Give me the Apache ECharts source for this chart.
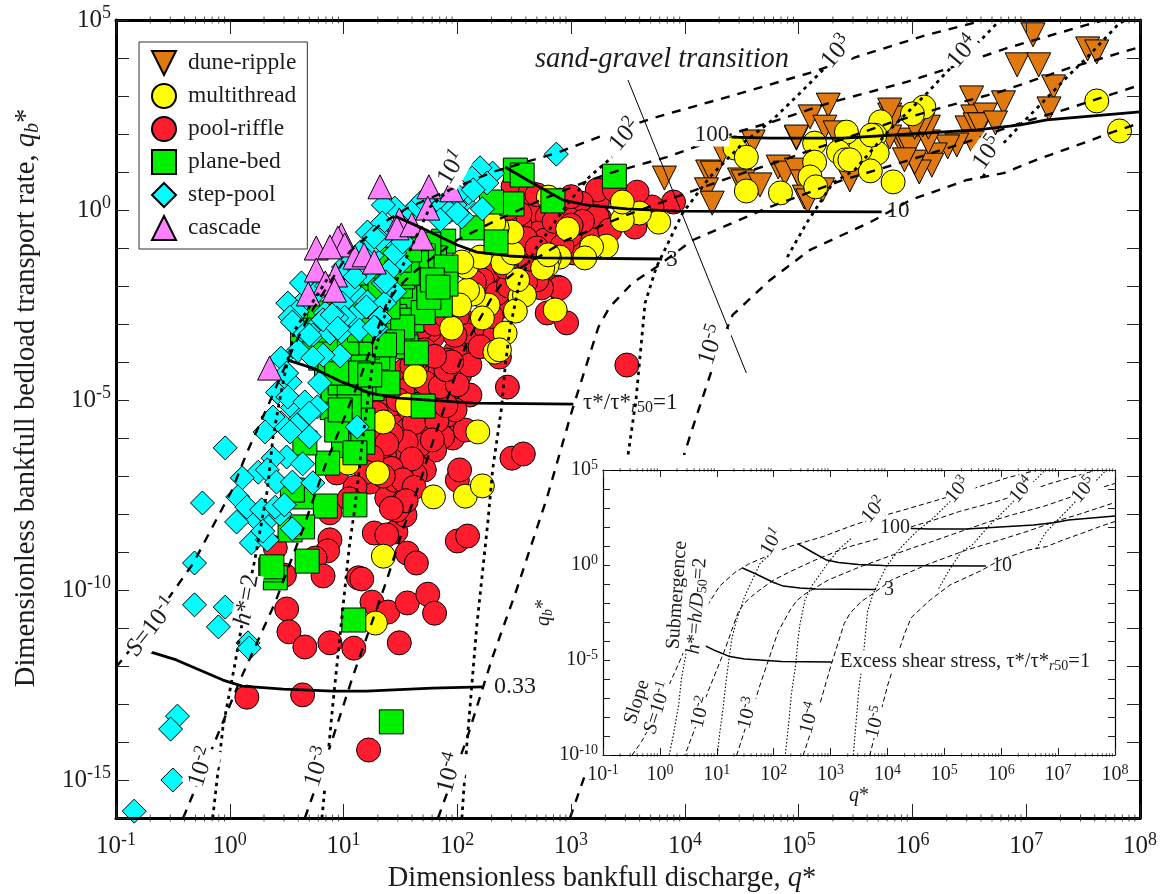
<!DOCTYPE html>
<html><head><meta charset="utf-8">
<style>html,body{margin:0;padding:0;background:#fff}#c{width:1165px;height:894px}</style>
<script src="https://cdn.jsdelivr.net/npm/echarts@6/dist/echarts.min.js"></script>
</head><body><div id="c"></div>
<script>
// All values as [log10 q*, log10 qb*]
const duneRipple=[[3.82,.84],[4.20,1.00],[4.24,.97],[4.19,.53],[4.24,.18],[4.33,1.53],[4.60,1.79],[4.48,.79],[4.51,.74],[4.66,.66],[4.82,1.13],[4.88,.97],[4.98,1.05],[5.03,.74],[5.05,.34],[5.08,.24],[4.98,1.89],[4.98,1.92],[5.10,2.45],[5.26,2.76],[5.23,2.18],[5.32,2.03],[5.80,2.50],[5.83,2.42],[5.45,.79],[5.21,.53],[5.89,1.84],[5.95,1.66],[5.80,1.92],[7.06,4.61],[6.92,3.82],[7.11,3.82],[7.24,3.24],[7.20,2.66],[7.54,4.24],[7.62,4.16],[6.52,2.95],[6.80,2.82],[6.53,2.45],[6.64,2.50],[6.48,2.16],[6.55,2.24],[6.59,2.24],[6.73,2.29],[6.53,1.76],[6.39,1.71],[6.31,1.66],[6.20,1.45],[6.17,1.18],[6.06,1.00],[6.02,1.26],[5.98,1.63],[6.14,1.79],[6.14,2.18],[6.09,2.24],[6.02,2.18],[5.80,2.63],[5.93,1.32]];
const poolRiffle=[[3.49,-4.08],[2.44,-4.66],[2.88,-2.03],[2.96,-2.97],[2.79,-2.71],[2.48,-6.53],[2.58,-6.42],[2.00,-7.11],[2.02,-6.84],[3.90,.21],[3.71,.08],[3.58,.47],[3.56,-.45],[3.23,.45],[3.23,.18],[3.25,-.21],[3.09,.08],[3.19,-.61],[3.02,-1.13],[2.90,-2.05],[2.74,-2.05],[2.65,-.79],[2.73,-.26],[2.61,.18],[2.81,-.71],[3.23,.53],[3.09,.18],[3.23,-.18],[2.70,-1.84],[2.66,-.08],[2.79,-.18],[2.84,-.71],[2.71,-.61],[2.49,.61],[2.64,.45],[2.55,-1.76],[2.37,-1.84],[2.26,-1.66],[2.22,-1.84],[2.39,-2.18],[2.37,-2.55],[2.20,-3.08],[2.08,-2.97],[1.73,-3.16],[1.67,-3.34],[1.78,-3.34],[2.37,-3.87],[2.20,-3.37],[2.11,-3.61],[1.98,-3.74],[1.91,-3.95],[1.91,-4.68],[1.78,-4.29],[1.76,-3.16],[1.70,-3.08],[1.67,-3.87],[1.89,-5.45],[1.96,-6.00],[1.87,-5.97],[1.73,-5.87],[1.42,-5.08],[1.38,-5.45],[1.29,-5.34],[1.47,-5.71],[1.56,-5.79],[1.49,-6.13],[1.32,-6.24],[1.65,-6.66],[1.56,-6.58],[1.47,-6.58],[1.58,-7.11],[1.56,-7.37],[1.48,-7.45],[1.49,-7.68],[1.42,-7.55],[1.41,-7.63],[1.23,-7.16],[.94,-6.92],[.88,-7.97],[1.27,-8.50],[1.46,-8.47],[1.38,-8.55],[1.56,-9.03],[1.64,-9.29],[2.00,-8.71],[2.09,-8.58],[.40,-8.89],[.88,-8.68],[.86,-8.97],[.75,-9.16],[.82,-9.63],[1.13,-9.68],[1.16,-9.71],[.50,-10.5],[.52,-11.1],[.66,-11.5],[.88,-11.39],[1.09,-11.53],[1.49,-11.39],[1.25,-10.32],[1.39,-10.58],[1.56,-10.34],[1.74,-10.11],[1.80,-10.61],[.15,-12.82],[.64,-12.76],[1.22,-14.21],[.48,-9.61],[1.38,-7.58],[1.52,-7.71],[1.56,-7.32],[2.07,-3.16],[1.93,-3.03],[1.93,-5.0],[2.11,-4.87],[1.76,-5.0],[1.45,-4.74],[1.54,-4.21],[1.71,-3.68],[1.85,-2.37],[1.98,-2.37],[2.02,-4.34],[1.85,-4.21],[1.67,-4.74],[1.58,-5.26],[1.71,-5.39],[1.80,-6.32],[1.67,-6.18],[1.71,-6.84],[1.63,-6.97],[1.54,-8.03],[1.45,-7.11],[1.36,-6.45],[1.23,-5.66],[2.07,-5.79],[2.11,-4.08],[2.29,-3.55],[2.46,-2.5],[2.51,-1.45],[2.64,-1.45],[2.42,-.79],[2.55,-.39],[2.77,-.79],[2.95,-.13],[2.99,-.66],[2.90,.26],[3.38,.53],[3.34,-.53],[1.85,-5.05],[1.98,-5.26],[1.62,-4.5],[1.52,-4.76],[1.48,-5.0],[1.62,-5.6],[1.82,-5.55],[1.55,-6.1],[1.78,-6.05],[1.42,-5.9],[1.3,-5.9],[1.38,-6.15],[1.5,-6.85],[1.6,-6.55],[1.42,-6.8],[1.52,-7.1],[1.35,-7.0],[1.62,-7.3],[1.47,-7.9],[1.55,-7.65],[1.42,-7.85],[1.9,-5.15],[1.72,-4.55],[1.85,-4.65],[2.0,-4.6],[1.9,-4.2],[1.95,-4.0],[1.8,-3.85],[1.6,-4.1],[1.68,-2.9],[1.8,-3.0],[1.9,-2.8],[2.0,-2.8],[2.1,-3.3],[1.98,-3.3],[2.25,-3.1],[2.33,-3.3],[2.2,-3.6],[2.3,-2.8],[2.15,-1.9],[2.35,-2.2],[2.55,-2.1],[2.6,-1.9],[2.45,-2.0],[2.42,-1.5],[2.6,-.75],[2.7,-1.0],[2.85,-.3],[2.55,-.1],[2.42,-.35],[2.45,.05],[2.7,.4],[3.0,.35],[3.1,-.3],[2.92,-.95],[3.0,-.4],[1.25,-6.5],[1.2,-6.9],[1.1,-7.3],[1.05,-7.6]];
const multithread=[[7.82,2.08],[7.62,2.87],[6.10,2.71],[6.00,2.53],[5.72,2.32],[5.67,1.97],[5.69,1.50],[5.63,1.03],[5.83,.74],[5.54,1.58],[4.44,1.63],[4.54,1.39],[4.54,.50],[4.84,.45],[5.14,1.76],[5.14,1.26],[5.10,.87],[5.15,.61],[5.42,2.05],[5.35,1.53],[5.41,1.32],[5.45,1.32],[5.64,1.97],[3.77,-.32],[3.60,-.08],[3.45,-.26],[3.45,.21],[3.31,-.95],[3.18,-.97],[3.12,-1.26],[2.90,-1.24],[2.81,-1.26],[2.77,-1.37],[2.97,-.50],[2.80,.34],[2.55,-2.29],[2.59,-2.24],[2.53,-1.84],[2.46,-1.13],[2.86,-2.63],[2.79,-1.45],[2.75,-1.53],[2.80,-1.18],[2.51,-2.66],[2.42,-3.24],[2.27,-2.50],[2.22,-2.84],[2.14,-2.21],[2.09,-2.11],[2.02,-2.50],[2.08,-1.50],[2.20,-1.24],[2.04,-1.37],[2.40,-1.39],[2.49,-1.13],[2.48,-.58],[2.35,-.47],[2.32,-.34],[1.95,-3.11],[2.33,-3.74],[2.37,-3.68],[1.63,-4.37],[1.56,-5.13],[1.35,-5.58],[2.18,-5.84],[1.04,-6.66],[1.30,-6.92],[1.79,-7.55],[2.07,-7.53],[2.22,-7.26],[1.35,-9.11],[1.28,-10.87]];
const planeBed=[[2.51,1.05],[2.57,.92],[2.84,.24],[2.48,.16],[2.30,.21],[2.34,-.84],[2.13,-.47],[1.88,-.82],[1.82,-1.79],[1.85,-2.50],[1.63,-2.32],[1.80,-1.26],[1.64,-1.63],[1.54,-2.32],[1.54,-3.16],[3.38,.89],[1.2,-1.9],[1.3,-1.6],[1.4,-1.3],[1.5,-1.0],[1.65,-.95],[1.75,-.9],[1.7,-1.2],[1.5,-2.0],[1.35,-2.0],[1.25,-2.6],[1.45,-2.8],[1.6,-2.9],[1.7,-2.7],[1.3,-3.4],[1.45,-3.3],[1.55,-3.6],[1.2,-3.9],[1.35,-4.1],[1.25,-4.7],[1.15,-4.7],[1.15,-5.1],[1.02,-5.6],[1.1,-5.9],[1.0,-6.2],[.98,-3.0],[.9,-3.4],[.8,-3.9],[.85,-4.4],[.9,-5.2],[.65,-2.9],[1.0,-1.9],[1.75,-2.3],[1.9,-1.5],[1.9,-1.95],[1.52,-1.76],[1.58,-1.58],[1.64,-1.39],[1.78,-1.84],[1.52,-3.08],[1.39,-2.55],[1.47,-1.66],[1.56,-1.66],[.79,-2.71],[1.26,-2.29],[1.83,-2.03],[1.43,-3.47],[1.64,-3.76],[1.30,-3.89],[1.39,-4.55],[1.70,-5.16],[1.05,-4.82],[.95,-4.92],[.91,-4.74],[.97,-4.55],[1.12,-3.61],[1.12,-3.95],[1.03,-4.13],[1.17,-5.53],[1.05,-5.53],[.94,-5.79],[1.17,-6.11],[1.10,-6.39],[.86,-6.66],[.84,-7.79],[1.10,-7.76],[.63,-7.55],[.55,-7.37],[.53,-8.42],[.64,-8.34],[.68,-9.24],[.40,-9.68],[.36,-9.47],[.37,-9.39],[1.09,-10.79],[1.42,-13.47],[1.05,-4.61],[.99,-4.29],[1.05,-5.18],[.97,-4.03],[.88,-4.03],[1.21,-3.61],[1.17,-4.13],[1.13,-4.29],[.94,-4.29],[1.03,-3.5],[.64,-3.42],[.66,-6.13],[1.01,-2.37],[1.14,-2.63],[1.32,-2.11],[1.49,-1.32],[1.58,-1.05],[1.14,-3.16],[1.27,-3.16],[1.36,-3.55],[1.23,-4.34],[.97,-5.26],[.84,-3.68],[.75,-3.16]];
const stepPool=[[.65,-2.4],[.75,-2.2],[.85,-2.0],[.95,-1.9],[1.0,-1.5],[1.15,-1.1],[1.25,-1.2],[1.4,-.7],[1.55,-.4],[1.6,-.05],[1.65,.1],[1.8,.0],[1.95,.0],[2.05,.2],[2.1,.45],[2.0,.4],[1.5,-1.4],[1.4,-1.6],[1.45,-2.15],[.6,-3.7],[.45,-3.9],[.42,-4.8],[.55,-5.2],[.45,-5.6],[.62,-5.5],[.25,-6.9],[.5,-6.5],[.22,-8.1],[.35,-8.1],[.44,-8.0],[2.87,1.47],[2.31,.97],[2.20,1.11],[2.13,.84],[2.26,.71],[2.14,.53],[2.22,.03],[2.04,-.18],[1.86,-.21],[1.98,.13],[1.87,.13],[1.93,-.05],[1.70,.26],[2.00,-.08],[1.85,-.26],[1.45,.05],[1.35,.13],[1.21,-.58],[1.34,-.34],[1.27,-.87],[1.45,-1.13],[1.35,-1.92],[1.13,-2.24],[1.08,-1.32],[.51,-2.45],[.63,-1.92],[1.32,-.79],[1.20,-1.66],[1.21,-2.42],[1.05,-2.03],[1.36,-2.45],[.99,-2.45],[1.52,-.84],[1.27,-.71],[1.14,-1.58],[1.37,-1.89],[1.32,-2.84],[1.29,-3.11],[1.08,-2.82],[1.01,-2.82],[.94,-2.84],[.84,-2.71],[.79,-2.97],[.73,-3.29],[.63,-3.16],[.59,-2.68],[.53,-2.82],[1.10,-1.76],[.88,-3.24],[.98,-3.21],[1.14,-3.16],[.55,-2.95],[.70,-3.29],[.82,-2.89],[.90,-2.76],[.95,-3.11],[1.20,-2.55],[1.27,-3.08],[.97,-3.84],[.82,-3.82],[.73,-3.89],[.79,-4.55],[.53,-4.53],[.50,-4.29],[.51,-4.92],[.66,-5.05],[.77,-5.18],[.70,-5.34],[.59,-5.66],[.38,-5.45],[.31,-5.84],[.70,-5.97],[.53,-5.84],[1.12,-5.71],[-.04,-6.26],[.38,-6.53],[.33,-6.84],[.64,-6.68],[.41,-7.16],[.11,-7.05],[.55,-7.16],[.73,-7.18],[.07,-7.55],[.15,-7.82],[.06,-8.21],[.28,-7.89],[.40,-7.82],[.48,-7.76],[.55,-8.39],[.19,-8.76],[.33,-8.68],[.29,-8.45],[-.24,-7.71],[-.31,-9.29],[-.31,-10.39],[-.04,-10.45],[-.10,-10.97],[.16,-11.39],[.17,-11.53],[-.46,-13.32],[-.52,-13.66],[-.50,-15.0],[-.84,-15.82]];
const cascade=[[1.32,.61],[1.75,.61],[1.74,.05],[1.49,-.26],[1.47,-.47],[1.60,-.39],[1.69,-.74],[.98,-.66],[.95,-.74],[1.01,-.92],[.76,-1.0],[.88,-.97],[1.10,-1.24],[1.18,-1.18],[1.27,-1.37],[.76,-1.58],[.93,-1.71],[.84,-1.92],[.69,-2.21],[.92,-2.11],[.35,-4.16],[1.95,.53]];
// Slope curves
const slope1e1=[[-1,-12.03],[-.75,-11.11],[-.32,-9.29],[.02,-7.37],[.15,-6.39],[.35,-5.05],[.55,-3.68],[.70,-2.76],[1.05,-1.11],[1.32,-.39],[1.56,.05],[1.93,.53],[2.31,1.0],[2.87,1.5],[3.34,2.03],[3.72,2.42],[4.37,2.97],[5.10,3.61],[5.51,4.03],[6.13,4.61],[6.64,5]];
const slope1e2=[[-.41,-16],[-.15,-14.13],[.11,-12.24],[.40,-10.32],[.64,-8.42],[.85,-6.63],[.92,-6.11],[1.14,-4.47],[1.38,-2.45],[1.48,-2.03],[1.61,-1.66],[1.73,-1.37],[2.0,-.79],[2.31,-.32],[2.73,.26],[3.10,.71],[3.34,.97],[3.84,1.39],[4.46,2.05],[4.77,2.32],[5.27,2.82],[5.63,3.11],[5.95,3.37],[6.27,3.68],[6.83,4.26],[7.53,4.87],[7.69,5]];
const slope1e3=[[.66,-16],[.88,-14.13],[1.08,-12.29],[1.38,-9.74],[1.52,-8.42],[1.67,-7.18],[1.76,-6.32],[1.96,-4.55],[2.08,-3.5],[2.29,-2.37],[2.40,-1.89],[2.55,-1.53],[2.70,-1.26],[2.96,-.79],[3.49,-.13],[4.02,.45],[4.46,.92],[4.81,1.26],[5.16,1.63],[5.80,2.29],[6.24,2.68],[6.77,3.11],[7.38,3.74],[8,4.29]];
const slope1e4=[[1.83,-16],[2.08,-13.95],[2.31,-11.76],[2.52,-10],[2.79,-7.55],[3.01,-5.26],[3.24,-3.08],[3.34,-2.55],[3.54,-1.92],[3.75,-1.5],[4.07,-.79],[4.72,.05],[5.39,.79],[5.98,1.32],[6.48,1.79],[6.95,2.29],[7.38,2.68],[8,3.29]];
const slope1e5=[[2.99,-16],[3.69,-10],[4.0,-6.37],[4.09,-5.53],[4.31,-3.55],[4.42,-2.76],[4.75,-1.84],[5.10,-1.05],[5.63,-.32],[5.98,.26],[6.48,.79],[6.80,.97],[7.09,1.32],[7.41,1.66],[7.74,2.03],[8,2.29]];
// Submergence curves
const sub2=[[-.15,-16],[-.06,-13.61],[.04,-12.03],[.15,-10.18],[.22,-9.21],[.33,-7.37],[.38,-5.97],[.46,-4.66],[.51,-3.95],[.57,-3.16],[.88,-1.71]];
const sub1e1=[[.81,-16],[.91,-12.89],[1.05,-8.87],[1.10,-7.82],[1.17,-5.97],[1.26,-3.95],[1.34,-2.97],[1.49,-1.66],[1.76,.08],[1.93,.53]];
const sub1e2=[[2.04,-16],[2.08,-14.21],[2.17,-10.97],[2.27,-8.16],[2.31,-6.84],[2.39,-5.18],[2.42,-4.13],[2.46,-3.16],[2.55,-1.84],[2.68,-1.05],[2.84,-.39],[2.96,.13],[3.16,.87],[3.36,1.39]];
const sub1e3=[[3.40,-10],[3.50,-6.45],[3.57,-5],[3.65,-2.45],[3.75,-1.5],[3.98,-.08],[4.22,.87],[4.51,1.76],[4.77,2.37],[5.04,3.16],[5.23,3.74]];
const sub1e4=[[4.90,-1.24],[5.07,-.34],[5.30,.71],[5.49,1.05],[5.80,2.11],[6.13,3.08],[6.30,3.63],[6.62,4.53],[6.77,5]];
const sub1e5=[[6.62,.87],[6.77,1.66],[6.95,2.24],[7.12,2.76],[7.36,3.5],[7.53,4.0],[7.82,4.92],[7.88,5]];
// Excess shear stress curves
const tau033=[[-.72,-11.61],[-.47,-11.84],[-.06,-12.37],[.11,-12.53],[.47,-12.61],[.91,-12.66],[1.20,-12.66],[1.78,-12.58],[2.22,-12.55]];
const tau1=[[.51,-3.95],[.73,-4.16],[.99,-4.53],[1.23,-4.82],[1.49,-4.95],[2.14,-5.08],[3.02,-5.11]];
const tau3=[[1.45,-.16],[1.67,-.45],[2.0,-.92],[2.17,-1.11],[2.46,-1.21],[2.75,-1.26],[3.80,-1.29]];
const tau10=[[2.42,1.13],[2.66,.71],[2.93,.26],[3.14,.13],[3.49,.03],[3.93,-.03],[5.73,-.05]];
const tau100=[[4.41,1.92],[4.75,1.89],[5.39,1.89],[5.98,2.0],[6.57,2.11],[6.95,2.24],[7.18,2.37],[8,2.58]];
const transition=[[3.50,3.42],[4.54,-4.29]];

const FONT='"Liberation Serif","Times New Roman",serif', INK='#1c1c1c';
const real=a=>a.map(p=>[Math.pow(10,p[0]),Math.pow(10,p[1])]);
const minorQ=[];for(let e=-1;e<8;e++)for(let m=2;m<10;m++)minorQ.push(m*Math.pow(10,e));

const rich=s=>({
  sup:{fontFamily:FONT,fontSize:Math.round(s*.7),padding:[0,0,s*.5,0],fill:INK,color:INK},
  isup:{fontFamily:FONT,fontStyle:'italic',fontSize:Math.round(s*.7),padding:[0,0,s*.5,0],fill:INK,color:INK},
  sub:{fontFamily:FONT,fontSize:Math.round(s*.7),padding:[s*.45,0,0,0],fill:INK,color:INK},
  isub:{fontFamily:FONT,fontStyle:'italic',fontSize:Math.round(s*.7),padding:[s*.45,0,0,0],fill:INK,color:INK},
  i:{fontFamily:FONT,fontStyle:'italic',fontSize:s,fill:INK,color:INK},
  n:{fontFamily:FONT,fontSize:s,fill:INK,color:INK}
});
const text=(x,y,t,size,rot,z,opt)=>Object.assign({type:'text',x,y,rotation:(rot||0)*Math.PI/180,z,silent:true,
  style:Object.assign({text:t,fontFamily:FONT,fontSize:size,fill:INK,align:'center',verticalAlign:'middle',rich:rich(size)},opt||{})});
const W={backgroundColor:'#fff'};
const p=s=>'10{sup|'+s+'}';

const graphics=[
 {type:'rect',z:5,silent:true,shape:{x:586,y:455,width:540,height:347},style:{fill:'#fff'}},
 text(662,60,'{i|sand-gravel transition}',28.5,0,4),
 text(152,627,'{i|S}=10{sup|-1}',25,52,4,W),
 text(247,600,'{i|h}*=2',25,80,4,W),
 text(202,767,p('-2'),25,72,4,W),
 text(318,767,p('-3'),25,72,4,W),
 text(450,773,p('-4'),25,75,4,W),
 text(712,345,p('-5'),25,72,4,W),
 text(452,168,'10{isup|1}',25,60,4,W),
 text(625,135,p('2'),25,50,4,W),
 text(837,52,p('3'),25,50,4,W),
 text(963,52,p('4'),25,50,4,W),
 text(988,153,p('5'),25,55,4,W),
 text(712,135,'100',23,0,4,W),
 text(898,211,'10',23,0,4),
 text(672,260,'3',23,0,4),
 text(515,687,'0.33',24,0,4),
 text(583,403,'{n|τ*/τ*}{isub|r}{sub|50}{n|=1}',23,0,4,{align:'left'}),
 text(637,702,'Slope',20,72,8,W),
 text(658,708,'{i|S}=10{sup|-1}',20,72,8,W),
 text(677,595,'Submergence',20,86,8,W),
 text(697,606,'{i|h}*={i|h/D}{sub|50}=2',20,86,8,W),
 text(701,712,p('-2'),20,75,8,W),
 text(748,713,p('-3'),20,75,8,W),
 text(810,718,p('-4'),20,75,8,W),
 text(876,722,p('-5'),20,75,8,W),
 text(772,542,'10{isup|1}',20,60,8,W),
 text(874,510,p('2'),20,50,8,W),
 text(958,490,p('3'),20,50,8,W),
 text(1022,490,p('4'),20,50,8,W),
 text(1084,490,p('5'),20,50,8,W),
 text(895,528,'100',20,0,8,W),
 text(1002,566,'10',20,0,8),
 text(889,590,'3',20,0,8),
 text(840,662,'{n|Excess shear stress, τ*/τ*}{isub|r}{sub|50}{n|=1}',20.5,0,8,{align:'left',backgroundColor:'#fff'})
];

function xAxis(grid,pos,min,max,lab,name,size,line,tick,z,gap,pad,nameSize,margin){
  return {type:'log',logBase:10,gridIndex:grid,position:pos,min,max,interval:1,z,
   axisLine:{show:true,onZero:false,lineStyle:{color:'#000',width:line}},
   axisTick:{show:true,inside:true,length:tick,lineStyle:{color:'#222',width:1}},
   splitLine:{show:false},minorTick:{show:false},
   axisLabel:{show:lab,margin,hideOverlap:false,showMinLabel:true,showMaxLabel:true,color:INK,fontFamily:FONT,fontSize:size,rich:rich(size),
     formatter:v=>'10{sup|'+Math.round(Math.log10(v))+'}'},
   name:lab?name:'',nameLocation:'middle',nameGap:gap,nameTextStyle:{fontFamily:FONT,fontSize:nameSize,color:INK,padding:pad,rich:rich(nameSize)}};
}
function yAxis(grid,pos,min,max,lab,name,size,line,tick,z,gap,pad,nameSize,margin){
  return {type:'log',logBase:10,gridIndex:grid,position:pos,min,max,interval:1,z,
   axisLine:{show:true,onZero:false,lineStyle:{color:'#000',width:line}},
   axisTick:{show:true,inside:true,length:tick,lineStyle:{color:'#222',width:1}},
   splitLine:{show:false},minorTick:{show:false},
   axisLabel:{show:lab,margin,hideOverlap:false,showMinLabel:true,showMaxLabel:true,color:INK,fontFamily:FONT,fontSize:size,rich:rich(size),
     formatter:v=>{const e=Math.round(Math.log10(v));return e%5===0?'10{sup|'+e+'}':'';}},
   name:lab?name:'',nameLocation:'middle',nameRotate:90,nameGap:gap,nameTextStyle:{fontFamily:FONT,fontSize:nameSize,color:INK,padding:pad,rich:rich(nameSize)}};
}
const marker=(name,data,symbol,color)=>({type:'scatter',name,data:real(data),symbol,symbolSize:24,xAxisIndex:0,yAxisIndex:0,z:2,silent:true,
  itemStyle:{color,borderColor:'#000',borderWidth:1,opacity:1}});
const curve=(name,data,g,dash,width,z)=>({type:'line',name,data:real(data),xAxisIndex:g,yAxisIndex:g,symbol:'none',z,silent:true,clip:true,
  lineStyle:{color:'#000',width,type:dash,cap:'butt'}});
const tickMarks=(name,g,yv,size,off,z)=>({type:'scatter',name,data:minorQ.map(v=>[v,yv]),xAxisIndex:g,yAxisIndex:g,symbol:'rect',symbolSize:[1,size],symbolOffset:[0,off],clip:false,silent:true,z,
  itemStyle:{color:'#222'}});

const dashM=[9,8],dotM=[3.5,4.5],dashI=[5,3],dotI=[1.5,2];
const slopes=[['S 1e-1',slope1e1],['S 1e-2',slope1e2],['S 1e-3',slope1e3],['S 1e-4',slope1e4],['S 1e-5',slope1e5]];
const subs=[['h 2',sub2],['h 1e1',sub1e1],['h 1e2',sub1e2],['h 1e3',sub1e3],['h 1e4',sub1e4],['h 1e5',sub1e5]];
const taus=[['tau 0.33',tau033],['tau 1',tau1],['tau 3',tau3],['tau 10',tau10],['tau 100',tau100]];

const series=[
 marker('dune-ripple',duneRipple,'path://M0,0L2,0L1,2Z','#E07A10'),
 marker('pool-riffle',poolRiffle,'circle','#FF1C2E'),
 marker('multithread',multithread,'circle','#FFFF00'),
 marker('plane-bed',planeBed,'rect','#00F000'),
 marker('step-pool',stepPool,'diamond','#00FFFF'),
 marker('cascade',cascade,'triangle','#FF80FF')
];
slopes.forEach(s=>series.push(curve(s[0],s[1],0,dashM,2.4,3)));
subs.forEach(s=>series.push(curve(s[0],s[1],0,dotM,2.8,3)));
taus.forEach(s=>series.push(curve(s[0],s[1],0,'solid',2.8,3)));
series.push(curve('sand-gravel transition',transition,0,'solid',1,3));
series.push(tickMarks('q ticks bottom',0,1e-16,7,[0,-3.5],4),tickMarks('q ticks top',0,1e5,7,[0,3.5],4));
slopes.forEach(s=>series.push(curve('inset '+s[0],s[1],2,dashI,1,7)));
subs.forEach(s=>series.push(curve('inset '+s[0],s[1],2,dotI,1.1,7)));
[tau1,tau3,tau10,tau100].forEach((t,i)=>series.push(curve('inset tau '+i,t,2,'solid',1.5,7)));
series.push(tickMarks('inset q ticks bottom',2,1e-10,3.5,[0,-1.8],7),tickMarks('inset q ticks top',2,1e5,3.5,[0,1.8],7));

const chart=echarts.init(document.getElementById('c'),null,{renderer:'canvas'});
chart.setOption({
 animation:false,backgroundColor:'#fff',
 grid:[{left:116,top:20,width:1024,height:798,containLabel:false,outerBoundsMode:'none'},{left:603,top:470,width:512,height:285,containLabel:false,outerBoundsMode:'none',z:6}],
 xAxis:[
  xAxis(0,'bottom',.1,1e8,true,'Dimensionless bankfull discharge, {i|q}*',25,3,14,4,45,[0,52,0,0],28.5,13),
  xAxis(0,'top',.1,1e8,false,'',25,3,14,4,0,0,25,8),
  xAxis(1,'bottom',.1,1e8,true,'{i|q}*',20,1.2,7,6,29,0,20,8),
  xAxis(1,'top',.1,1e8,false,'',20,1.2,7,6,0,0,20,8)],
 yAxis:[
  yAxis(0,'left',1e-16,1e5,true,'Dimensionless bankfull bedload transport rate, {i|q}{isub|b}*',25,3,13,4,73,[0,0,0,42],28.5,5),
  yAxis(0,'right',1e-16,1e5,false,'',25,3,13,4,0,0,25,5),
  yAxis(1,'left',1e-10,1e5,true,'{i|q}{isub|b}*',20,1.2,7,6,43,0,20,5),
  yAxis(1,'right',1e-10,1e5,false,'',20,1.2,7,6,0,0,20,5)],
 legend:{data:['dune-ripple','multithread','pool-riffle','plane-bed','step-pool','cascade'],orient:'vertical',left:139,top:42,z:4,
  padding:[8,11,8,12],itemWidth:24,itemHeight:24,itemGap:7,backgroundColor:'#fff',borderColor:'#333',borderWidth:1,selectedMode:false,
  textStyle:{fontFamily:FONT,fontSize:23.5,color:INK,padding:[0,0,0,7]}},
 series,
 graphic:{elements:graphics}
});
</script></body></html>
